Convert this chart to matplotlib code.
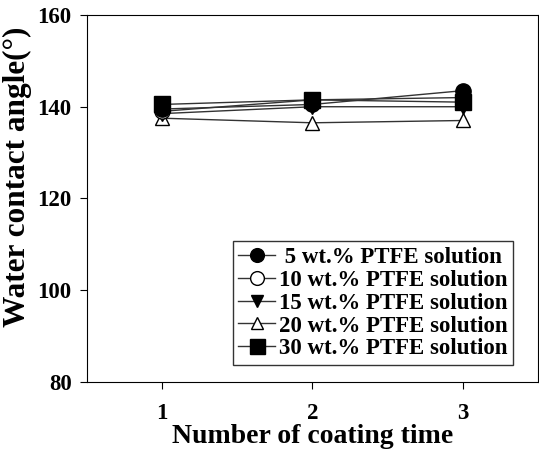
import matplotlib.pyplot as plt

plt.rcParams['font.family'] = ['Liberation Serif', 'DejaVu Serif']
plt.rcParams['font.weight'] = 'bold'

coating = [1, 2, 3]
wca_5 = [139.5, 140.5, 143.5]
wca_10 = [139.0, 141.5, 142.0]
wca_15 = [138.5, 140.0, 140.0]
wca_20 = [137.5, 136.5, 137.0]
wca_30 = [140.5, 141.5, 141.0]

labels = [' 5 wt.% PTFE solution', '10 wt.% PTFE solution', '15 wt.% PTFE solution',
          '20 wt.% PTFE solution', '30 wt.% PTFE solution']

fig = plt.figure(figsize=(5.39, 4.54), dpi=100)
ax = fig.add_axes([0.1614, 0.1586, 0.8366, 0.8084])

line_kw = dict(color='#333333', linewidth=1.0, markeredgecolor='black', markeredgewidth=1.0)
ax.plot(coating, wca_20, marker='^', markersize=10, markerfacecolor='white', label=labels[3], **line_kw)
ax.plot(coating, wca_15, marker='v', markersize=10, markerfacecolor='black', label=labels[2], **line_kw)
ax.plot(coating, wca_10, marker='o', markersize=11, markerfacecolor='white', label=labels[1], **line_kw)
ax.plot(coating, wca_30, marker='s', markersize=12, markerfacecolor='black', label=labels[4], **line_kw)
ax.plot(coating, wca_5, marker='o', markersize=11, markerfacecolor='black', label=labels[0], **line_kw)

ax.set_xlim(0.5, 3.5)
ax.set_ylim(80, 160)
ax.set_xticks([1, 2, 3])
ax.set_yticks([80, 100, 120, 140, 160])
ax.tick_params(direction='out', length=5, labelsize=16.5)
ax.tick_params(axis='y', pad=6)
ax.tick_params(axis='x', pad=10)
ax.set_xlabel('Number of coating time', fontsize=20, fontweight='bold', labelpad=0)
ax.set_ylabel('Water contact angle(°)', fontsize=22.5, fontweight='bold')
ax.yaxis.set_label_coords(-0.122, 0.559)

handles, lbls = ax.get_legend_handles_labels()
order = [labels.index(l) for l in lbls]
pairs = sorted(zip(order, handles, lbls))
leg = ax.legend([p[1] for p in pairs], [p[2] for p in pairs], loc='lower right',
                bbox_to_anchor=(0.9446, 0.046), fontsize=16.5, frameon=True, fancybox=False,
                edgecolor='black', handlelength=1.6, handletextpad=0.15, labelspacing=0.08,
                borderpad=0.25, borderaxespad=0, markerscale=0.9)
leg.get_frame().set_linewidth(1.0)

fig.savefig('out.png', dpi=100)
